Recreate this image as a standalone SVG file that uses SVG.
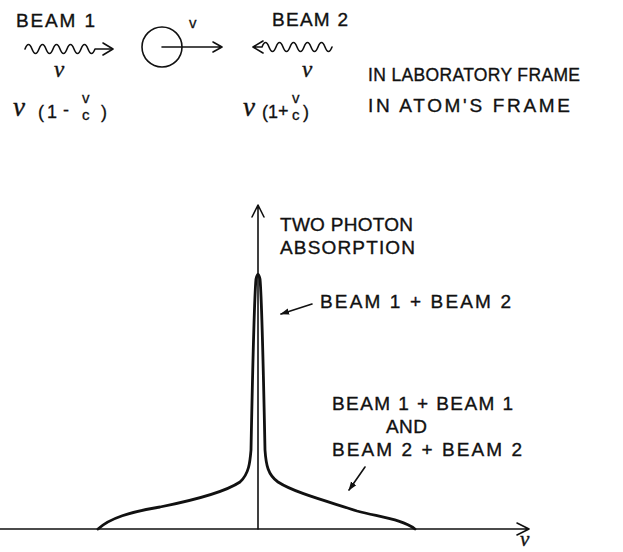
<svg xmlns="http://www.w3.org/2000/svg" width="623" height="552" viewBox="0 0 623 552">
<style>
.t{font-family:"Liberation Sans",Arial,sans-serif;font-size:19px;fill:#111;stroke:#111;stroke-width:0.35}
.s{font-family:"Liberation Sans",Arial,sans-serif;font-size:15px;fill:#111;stroke:#111;stroke-width:0.3}
.p{font-family:"Liberation Sans",Arial,sans-serif;font-size:18px;fill:#111;stroke:#111;stroke-width:0.3}
.nu{font-family:"Liberation Serif","DejaVu Serif",serif;font-style:italic;font-size:23px;fill:#111;stroke:#111;stroke-width:0.4}
.ln{fill:none;stroke:#111;stroke-width:1.6;stroke-linecap:round;stroke-linejoin:round}
.cv{fill:none;stroke:#111;stroke-width:2.8;stroke-linecap:round;stroke-linejoin:round}
</style>
<defs>
<marker id="fh" viewBox="0 0 10 10" refX="9" refY="5" markerWidth="9" markerHeight="9" markerUnits="userSpaceOnUse" orient="auto">
<path d="M0,1.5 L10,5 L0,8.5 Z" fill="#111"/>
</marker>
</defs>

<g id="beam1">
<text class="t" x="16" y="27" textLength="79" lengthAdjust="spacing">BEAM 1</text>
<path class="ln" d="M25,49 q3.5,-9 7,0 t7,0 t7,0 t7,0 t7,0 t7,0 t7,0 t7,0 t7,0 t7,0 L112,49"/>
<path class="ln" d="M103,43 L113,49 L103,55"/>
<text class="nu" x="54" y="77">ν</text>
</g>

<g id="atom">
<circle cx="162" cy="47" r="20" class="ln"/>
<path class="ln" d="M162,47 L221,47 M213,42 L222,47 L213,52"/>
<text class="s" x="189" y="28">v</text>
</g>

<g id="beam2">
<text class="t" x="272" y="26" textLength="76" lengthAdjust="spacing">BEAM 2</text>
<path class="ln" d="M263,41 L253,47 L263,53 M253,47 L262,47 q3.5,-9 7,0 t7,0 t7,0 t7,0 t7,0 t7,0 t7,0 t7,0 t7,0 t7,0"/>
<text class="nu" x="302" y="77">ν</text>
<text class="t" x="368" y="81" style="font-size:17.5px" textLength="212" lengthAdjust="spacing">IN LABORATORY FRAME</text>
</g>

<g id="formula1">
<text class="nu" x="13" y="116" style="font-size:27px">ν</text>
<text class="p" x="38" y="118">(</text>
<text class="p" x="47" y="118">1</text>
<text class="p" x="63" y="116">-</text>
<text class="s" x="82" y="103">v</text>
<text class="s" x="82" y="120">c</text>
<text class="p" x="101" y="118">)</text>
</g>

<g id="formula2">
<text class="nu" x="243" y="116" style="font-size:27px">ν</text>
<text class="p" x="262" y="118">(</text>
<text class="p" x="268" y="118">1</text>
<text class="p" x="278" y="117">+</text>
<text class="s" x="292" y="103">v</text>
<text class="s" x="292" y="120">c</text>
<text class="p" x="303" y="118">)</text>
<text class="t" x="368" y="112" textLength="202" lengthAdjust="spacing">IN ATOM'S FRAME</text>
</g>

<g id="axes">
<path class="ln" d="M258,529 L258,206 M252,217 L258,205 L264,217"/>
<path class="ln" d="M0,529 L528,529 M517,523 L529,529 L517,535"/>
<text class="nu" x="520" y="546" style="font-size:21px">ν</text>
<text class="t" x="280" y="231" textLength="133" lengthAdjust="spacing">TWO PHOTON</text>
<text class="t" x="280" y="254" textLength="135" lengthAdjust="spacing">ABSORPTION</text>
</g>

<g id="curve">
<path class="cv" d="M98,529 C110,518 130,512 160,507 C195,500 225,492 240,482 C249,474 250,462 251,450 C252,400 254,300 256,279 Q258,270 260,279 C262,300 264,400 265,450 C266,465 268,475 278,482 C295,493 330,502 357,511 C385,518 403,520 415,529"/>
</g>

<g id="label-beam12">
<text class="t" x="320" y="308" textLength="191" lengthAdjust="spacing">BEAM 1 + BEAM 2</text>
</g>

<g id="label-beam11">
<text class="t" x="332" y="410" textLength="181" lengthAdjust="spacing">BEAM 1 +  BEAM 1</text>
<text class="t" x="386" y="433" textLength="41" lengthAdjust="spacing">AND</text>
<text class="t" x="332" y="456" textLength="190" lengthAdjust="spacing">BEAM 2 + BEAM 2</text>
</g>

<g id="connectors">
<path class="ln" d="M312,304 L281,314" marker-end="url(#fh)"/>
<path class="ln" d="M365,467 L349,490" marker-end="url(#fh)"/>
</g>
</svg>
